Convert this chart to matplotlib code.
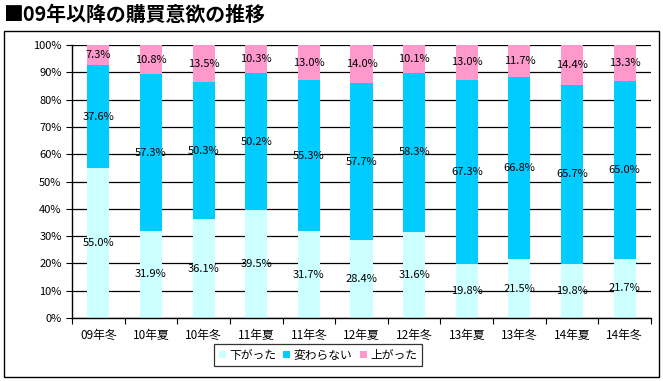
import matplotlib.pyplot as plt
from matplotlib.patches import Rectangle
from matplotlib.ticker import FixedLocator, PercentFormatter
import numpy as np

plt.rcParams['font.family'] = ['Noto Sans CJK JP', 'DejaVu Sans']

periods = ["09年冬", "10年夏", "10年冬", "11年夏", "11年冬", "12年夏",
           "12年冬", "13年夏", "13年冬", "14年夏", "14年冬"]
down = [55.0, 31.9, 36.1, 39.5, 31.7, 28.4, 31.6, 19.8, 21.5, 19.8, 21.7]
same = [37.6, 57.3, 50.3, 50.2, 55.3, 57.7, 58.3, 67.3, 66.8, 65.7, 65.0]
up = [7.3, 10.8, 13.5, 10.3, 13.0, 14.0, 10.1, 13.0, 11.7, 14.4, 13.3]

series = [("下がった", down, "#CCFFFF"),
          ("変わらない", same, "#00CCFF"),
          ("上がった", up, "#FF99CC")]

W, H = 663, 381
fig = plt.figure(figsize=(W / 100, H / 100), dpi=100)
ax = fig.add_axes([72 / W, 1 - 318 / H, (651 - 72) / W, (318 - 45) / H])

x = np.arange(len(periods))
bottom = np.zeros(len(periods))
for name, vals, color in series:
    vals = np.array(vals)
    ax.bar(x, vals, 0.42, bottom=bottom, color=color, label=name, zorder=2)
    for xi, b, v in zip(x, bottom, vals):
        ax.text(xi, b + v / 2, f"{v:.1f}%", ha="center", va="center",
                fontsize=8, zorder=3)
    bottom += vals

ax.set_xlim(-0.5, len(periods) - 0.5)
ax.set_ylim(0, 100)
ax.set_yticks(np.arange(0, 101, 10))
ax.yaxis.set_major_formatter(PercentFormatter(decimals=0))
ax.set_xticks(x)
ax.set_xticklabels(periods)
ax.xaxis.set_minor_locator(FixedLocator(np.arange(-0.5, len(periods), 1)))
ax.tick_params(axis="x", which="major", length=0, pad=8, labelsize=8.5)
ax.tick_params(axis="x", which="minor", length=4, direction="out", width=0.8)
ax.tick_params(axis="y", length=4, width=0.8, labelsize=8)
ax.grid(axis="y", color="black", linewidth=0.9, zorder=1)
for side in ["top", "right"]:
    ax.spines[side].set_visible(False)
for side in ["left", "bottom"]:
    ax.spines[side].set_linewidth(1.0)

leg = fig.legend(loc="center", bbox_to_anchor=(318 / W, 1 - 355 / H), ncol=3,
                 frameon=True, fancybox=False, edgecolor="black",
                 fontsize=8.5, handlelength=0.6, handleheight=0.6,
                 handletextpad=0.3, columnspacing=0.6, borderpad=0.4)
leg.get_frame().set_linewidth(0.9)

fig.patches.append(Rectangle((4 / W, 1 - 377 / H), 655 / W, 346 / H,
                             transform=fig.transFigure, fill=False,
                             edgecolor="black", linewidth=1.0))

fig.text(3 / W, 1 - 14 / H, "■09年以降の購買意欲の推移", ha="left", va="center",
         fontsize=14.3, fontweight="bold")

fig.savefig("out.png", dpi=100)
